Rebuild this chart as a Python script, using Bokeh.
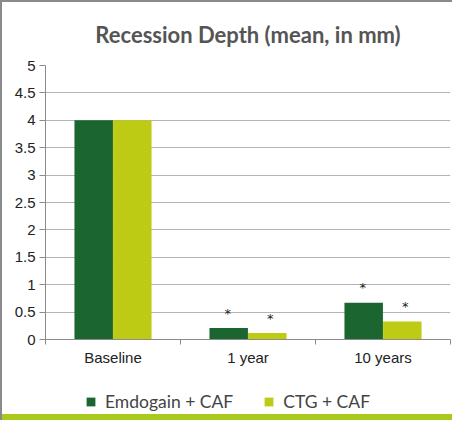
from bokeh.plotting import figure
from bokeh.layouts import column
from bokeh.models import (Range1d, FixedTicker, Legend, LegendItem,
                          ColumnDataSource)
from bokeh.core.properties import value
from bokeh.embed import file_html
from bokeh.resources import INLINE

# ---- data ----
categories = ["Baseline", "1 year", "10 years"]
series_names = ["Emdogain + CAF", "CTG + CAF"]
emdogain = [4.0, 0.21, 0.67]
ctg = [4.0, 0.12, 0.33]
# significance asterisks: group index and height
star_emd_idx = [1, 2]
star_emd_y = [0.55, 1.02]
star_ctg_idx = [1, 2]
star_ctg_y = [0.46, 0.675]
y_ticks = [0, 0.5, 1, 1.5, 2, 2.5, 3, 3.5, 4, 4.5, 5]
y_tick_labels = ["0", "0.5", "1", "1.5", "2", "2.5", "3", "3.5", "4", "4.5", "5"]

DARK = "#1b6630"
LIGHT = "#bdcb14"
BAR_W = 0.285
OFF = 0.143

p = figure(width=452, height=380, output_backend="svg", toolbar_location=None,
           x_range=Range1d(0, len(categories)), y_range=Range1d(0, 5),
           min_border_left=45, min_border_right=2, min_border_top=0, min_border_bottom=41,
           border_fill_color=None)
p.styles = {"box-shadow": "inset 2px 2px 0 0 #8a8a8a", "background-color": "white"}

p.title.text = "Recession Depth (mean, in mm)"
p.title.align = "center"
p.title.text_font = "Lato"
p.title.text_font_size = "22px"
p.title.text_font_style = "bold"
p.title.text_color = "#555555"
p.title.text_line_height = 0.7
p.title.standoff = 36

xs = list(range(len(categories)))
src = ColumnDataSource(dict(
    x_emd=[i + 0.5 - OFF for i in xs], x_ctg=[i + 0.5 + OFF for i in xs],
    emd=emdogain, ctg=ctg))
p.vbar(x="x_emd", top="emd", width=BAR_W, source=src, color=DARK, line_color=None)
p.vbar(x="x_ctg", top="ctg", width=BAR_W, source=src, color=LIGHT, line_color=None)

p.text(x=[i + 0.5 - OFF for i in star_emd_idx], y=star_emd_y, text=["*"] * len(star_emd_y),
       text_font=value("DejaVu Sans"), text_font_size="13px", text_color="#222222",
       text_align="center", text_baseline="middle", y_offset=4, x_offset=-1)
p.text(x=[i + 0.5 + OFF for i in star_ctg_idx], y=star_ctg_y, text=["*"] * len(star_ctg_y),
       text_font=value("DejaVu Sans"), text_font_size="13px", text_color="#222222",
       text_align="center", text_baseline="middle", y_offset=4, x_offset=3)

p.xaxis.ticker = FixedTicker(ticks=[i + 0.5 for i in xs], minor_ticks=[0, 1, 2, 3])
p.xaxis.major_label_overrides = {i + 0.5: c for i, c in zip(xs, categories)}
p.xaxis.major_tick_line_color = None
p.xaxis.minor_tick_line_color = "#8a8a8a"
p.xaxis.minor_tick_in = 0
p.xaxis.minor_tick_out = 5
p.xaxis.axis_line_color = "#8a8a8a"
p.xaxis.major_label_text_font = "Liberation Sans"
p.xaxis.major_label_text_font_size = "15px"
p.xaxis.major_label_text_color = "#222222"
p.xaxis.major_label_standoff = 3

p.yaxis.ticker = FixedTicker(ticks=y_ticks, minor_ticks=[])
p.yaxis.major_label_overrides = {t: l for t, l in zip(y_ticks, y_tick_labels)}
p.yaxis.axis_line_color = "#8a8a8a"
p.yaxis.major_tick_line_color = "#8a8a8a"
p.yaxis.major_tick_in = 0
p.yaxis.major_tick_out = 6
p.yaxis.major_label_text_font = "Liberation Sans"
p.yaxis.major_label_text_font_size = "15px"
p.yaxis.major_label_text_color = "#222222"
p.yaxis.major_label_standoff = 4

p.xgrid.grid_line_color = None
p.ygrid.grid_line_color = "#b4b4b4"
p.outline_line_color = None

# legend strip (its bars lie outside its own visible range; only the legend shows)
p2 = figure(width=452, height=40, output_backend="svg", toolbar_location=None,
            x_range=Range1d(0, len(categories)), y_range=Range1d(10, 11),
            x_axis_location=None, y_axis_location=None,
            min_border_left=0, min_border_right=0, min_border_top=0, min_border_bottom=0,
            border_fill_color=None, background_fill_color=None)
p2.styles = {"box-shadow": "inset 2px 0 0 0 #8a8a8a, inset 0 -6px 0 0 #a9c91c",
             "background-color": "white"}
p2.grid.visible = False
p2.outline_line_color = None
lr1 = p2.vbar(x="x_emd", top="emd", width=BAR_W, source=src, color=DARK, line_color=None)
lr2 = p2.vbar(x="x_ctg", top="ctg", width=BAR_W, source=src, color=LIGHT, line_color=None)
legend = Legend(items=[LegendItem(label=series_names[0], renderers=[lr1]),
                       LegendItem(label=series_names[1], renderers=[lr2])],
                orientation="horizontal", location=(40, 8),
                glyph_width=11, glyph_height=11, label_text_font="Lato",
                label_text_font_size="17.5px", label_text_color="#444444",
                spacing=30, label_standoff=9, border_line_color=None,
                background_fill_color=None, padding=2, margin=0)
p2.add_layout(legend)

layout = column(p, p2, spacing=0)
open("out.html", "w").write(file_html(layout, INLINE))
